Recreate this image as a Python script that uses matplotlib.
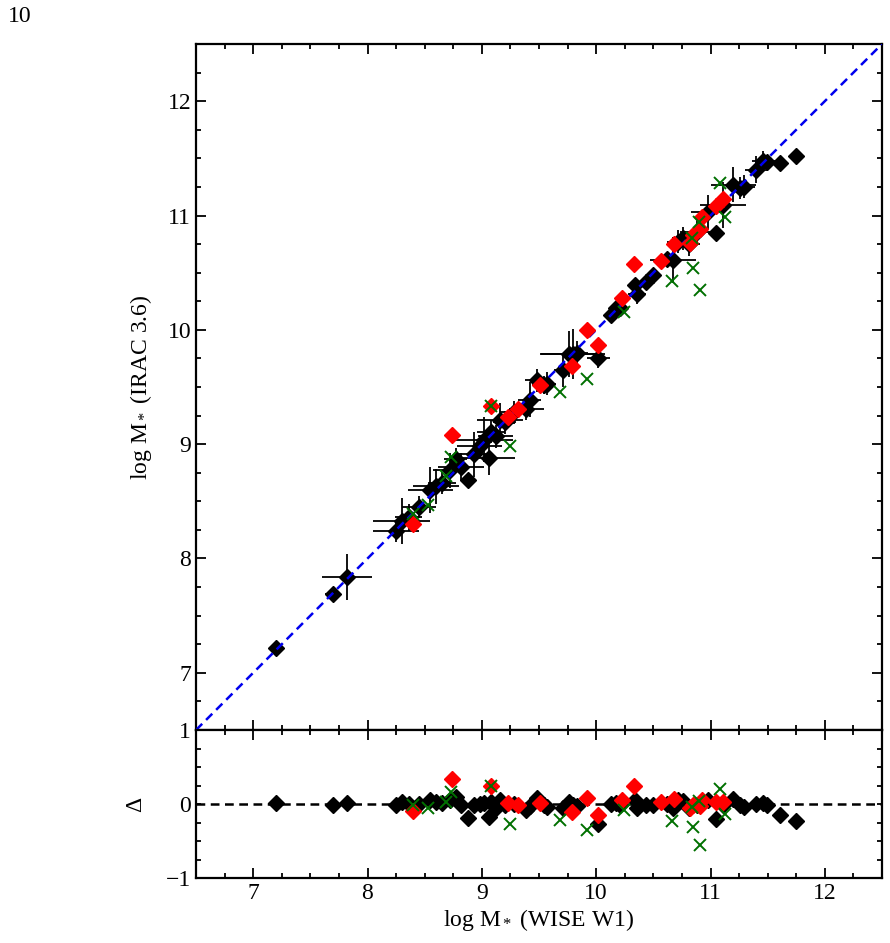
import numpy as np
import matplotlib
matplotlib.use("Agg")
import matplotlib.pyplot as plt
from matplotlib.ticker import MultipleLocator

plt.rcParams['font.family'] = ['Liberation Serif', 'DejaVu Serif']
plt.rcParams['mathtext.fontset'] = 'custom'
plt.rcParams['mathtext.rm'] = 'Liberation Serif'
plt.rcParams['mathtext.it'] = 'Liberation Serif:italic'

# black sample: x (WISE W1), residual, x error, y error
blk_x = [7.20, 7.70, 7.82, 8.25, 8.30, 8.36, 8.45, 8.55, 8.60, 8.65, 8.72, 8.77,
         8.82, 8.88, 8.93, 8.98, 9.02, 9.06, 9.08, 9.12, 9.16, 9.20, 9.28, 9.39,
         9.42, 9.48, 9.54, 9.57, 9.71, 9.76, 9.80, 9.83, 10.02, 10.13, 10.17, 10.21,
         10.34, 10.36, 10.44, 10.50, 10.62, 10.67, 10.72, 10.76, 10.81, 10.88, 10.98,
         11.05, 11.11, 11.20, 11.26, 11.29, 11.40, 11.46, 11.49, 11.61, 11.75]
blk_d = [0.02, -0.01, 0.02, -0.01, 0.03, 0.00, 0.00, 0.05, 0.03, 0.01, 0.05, 0.10,
         -0.02, -0.19, -0.02, 0.00, 0.02, -0.18, 0.03, -0.05, 0.05, -0.01, 0.00, -0.08,
         -0.03, 0.08, -0.02, -0.04, -0.06, 0.03, -0.01, -0.03, -0.27, 0.00, 0.02, -0.02,
         0.05, -0.05, -0.02, -0.02, 0.00, -0.06, 0.05, 0.04, -0.06, -0.02, 0.05,
         -0.20, -0.02, 0.07, -0.02, -0.04, 0.00, 0.02, -0.02, -0.15, -0.23]
blk_xe = [0.0, 0.07, 0.22, 0.20, 0.25, 0.12, 0.15, 0.20, 0.20, 0.12, 0.15, 0.10,
          0.20, 0.0, 0.15, 0.20, 0.25, 0.23, 0.12, 0.15, 0.20, 0.10, 0.12, 0.15,
          0.10, 0.10, 0.10, 0.08, 0.08, 0.25, 0.28, 0.10, 0.10, 0.05, 0.05, 0.05,
          0.05, 0.08, 0.05, 0.05, 0.08, 0.20, 0.10, 0.10, 0.10, 0.15, 0.15,
          0.0, 0.20, 0.20, 0.10, 0.10, 0.10, 0.10, 0.05, 0.0, 0.0]
blk_ye = [0.0, 0.05, 0.20, 0.10, 0.20, 0.12, 0.10, 0.20, 0.15, 0.10, 0.15, 0.10,
          0.12, 0.0, 0.20, 0.10, 0.20, 0.15, 0.10, 0.10, 0.15, 0.10, 0.10, 0.10,
          0.15, 0.10, 0.08, 0.10, 0.15, 0.20, 0.22, 0.10, 0.08, 0.05, 0.05, 0.08,
          0.05, 0.08, 0.05, 0.05, 0.05, 0.20, 0.10, 0.10, 0.10, 0.10, 0.15,
          0.0, 0.20, 0.15, 0.10, 0.10, 0.12, 0.08, 0.05, 0.0, 0.0]

# red sample
red_x = [8.40, 8.74, 9.08, 9.23, 9.32, 9.51, 9.79, 9.92, 10.02, 10.23, 10.33,
         10.57, 10.68, 10.82, 10.85, 10.91, 10.93, 11.05, 11.11]
red_d = [-0.10, 0.34, 0.25, 0.01, -0.01, 0.01, -0.11, 0.08, -0.15, 0.05, 0.25,
         0.03, 0.07, -0.06, -0.02, -0.03, 0.06, 0.03, 0.03]

# green sample
grn_x = [8.40, 8.53, 8.69, 8.73, 9.08, 9.25, 9.68, 9.92, 10.24, 10.66, 10.85,
         10.91, 10.84, 10.90, 11.08, 11.13]
grn_d = [-0.01, -0.06, 0.03, 0.16, 0.25, -0.27, -0.22, -0.35, -0.08, -0.23, -0.31,
         -0.56, -0.04, 0.04, 0.20, -0.14]

blk_x = np.array(blk_x); blk_d = np.array(blk_d)
red_x = np.array(red_x); red_d = np.array(red_d)
grn_x = np.array(grn_x); grn_d = np.array(grn_d)

fs = 17
ms = 8.5
fig = plt.figure(figsize=(8.9, 9.43), dpi=100)
ax = fig.add_axes([196/890, 1-730/943, 686/890, 686/943])
ax2 = fig.add_axes([196/890, 1-878/943, 686/890, 148/943])

ax.errorbar(blk_x, blk_x + blk_d, xerr=blk_xe, yerr=blk_ye, fmt='D', ms=ms,
            color='black', ecolor='black', elinewidth=1.3, capsize=0, zorder=2)
ax.plot([6.5, 12.5], [6.5, 12.5], color='#0000ee', ls=(0, (3.5, 2.2)), lw=1.8, zorder=3)
ax.plot(red_x, red_x + red_d, 'D', ms=ms, color='#ff0000', zorder=4)
ax.plot(grn_x, grn_x + grn_d, 'x', ms=9, mew=1.4, color='#007000', zorder=5)

ax2.axhline(0, color='black', ls=(0, (3.5, 2.2)), lw=1.8, zorder=1)
ax2.plot(blk_x, blk_d, 'D', ms=ms, color='black', zorder=2)
ax2.plot(red_x, red_d, 'D', ms=ms, color='#ff0000', zorder=4)
ax2.plot(grn_x, grn_d, 'x', ms=9, mew=1.4, color='#007000', zorder=5)

for a in (ax, ax2):
    a.set_xlim(6.5, 12.5)
    a.xaxis.set_major_locator(MultipleLocator(1))
    a.xaxis.set_minor_locator(MultipleLocator(0.25))
    a.yaxis.set_minor_locator(MultipleLocator(0.25))
    a.tick_params(which='both', direction='in', top=True, right=True,
                  labelsize=fs, width=1.3)
    a.tick_params(which='major', length=7)
    a.tick_params(which='minor', length=3.5)
    for s in a.spines.values():
        s.set_linewidth(1.6)

ax.set_ylim(6.5, 12.5)
ax.set_yticks([7, 8, 9, 10, 11, 12])
ax.tick_params(labelbottom=False)
ax.set_ylabel(r'log M$_*$ (IRAC 3.6)', fontsize=fs, labelpad=10)

ax2.set_ylim(-1, 1)
ax2.set_yticks([-1, 0, 1])
ax2.tick_params(axis='y', which='major', length=3.5)
ax2.set_ylabel('Δ', fontsize=fs, labelpad=14)
ax2.set_xlabel(r'log M$_*$ (WISE W1)', fontsize=fs, labelpad=2)

fig.text(8/890, 1-17/943, '10', fontsize=fs, va='center', ha='left')

fig.savefig('out.png', dpi=100)
